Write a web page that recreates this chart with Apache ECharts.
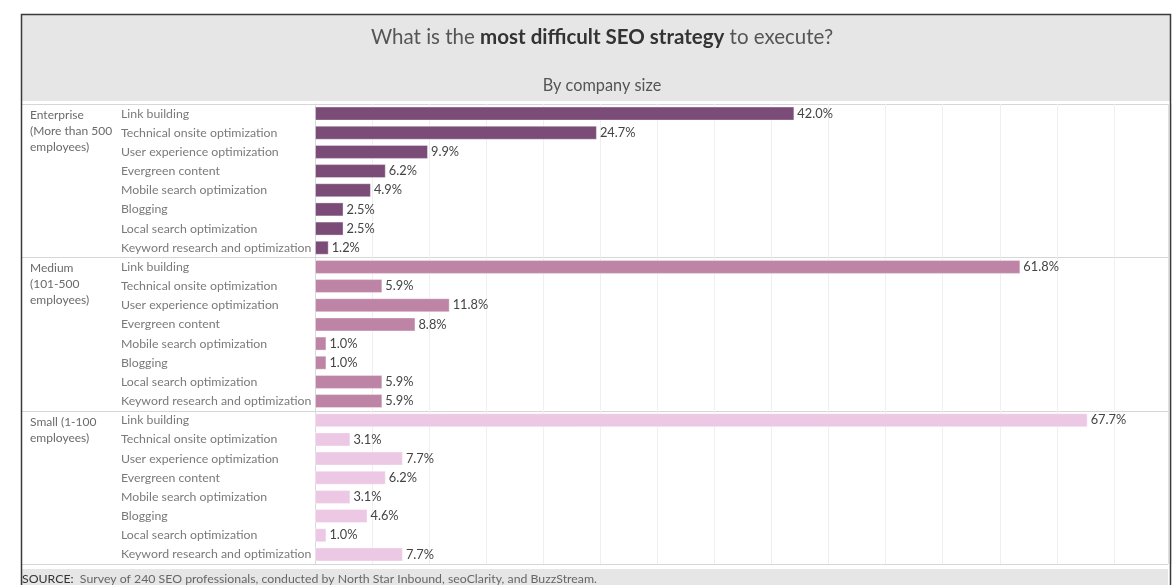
<!DOCTYPE html>
<html>
<head>
<meta charset="utf-8">
<title>Most difficult SEO strategy by company size</title>
<script src="https://cdn.jsdelivr.net/npm/echarts@6/dist/echarts.min.js"></script>
<style>
  html, body { margin: 0; padding: 0; background: #ffffff; }
  #chart { width: 1173px; height: 585px; }
</style>
</head>
<body>
<div id="chart"></div>
<script>
// Strategies, listed top to bottom within each company-size group
const strategies = [
  'Link building',
  'Technical onsite optimization',
  'User experience optimization',
  'Evergreen content',
  'Mobile search optimization',
  'Blogging',
  'Local search optimization',
  'Keyword research and optimization'
];

const groupLabels = [
  'Enterprise\n(More than 500\nemployees)',
  'Medium\n(101-500\nemployees)',
  'Small (1-100\nemployees)'
];

// Share of respondents (%) per group
const enterpriseValues = [42.0, 24.7, 9.9, 6.2, 4.9, 2.5, 2.5, 1.2];
const mediumValues     = [61.8, 5.9, 11.8, 8.8, 1.0, 1.0, 5.9, 5.9];
const smallValues      = [67.7, 3.1, 7.7, 6.2, 3.1, 4.6, 1.0, 7.7];

const groupColors = ['#7b4c78', '#bd84a6', '#edc8e4'];

const FONT = 'Lato, "Open Sans", sans-serif';
const groupValues = [enterpriseValues, mediumValues, smallValues];

const plotTop = 104;
const bandH = 153.33;
const plotLeft = 315;
const plotRight = 1171;   // where 75% falls
const panelRight = 1168;  // inner edge of the panel

const grids = [], xAxes = [], yAxes = [], series = [], graphics = [];

// frame, heading band and footer band
graphics.push({
  type: 'rect', silent: true, z: -10,
  shape: { x: 22, y: 15, width: 1148, height: 86 },
  style: { fill: '#e6e6e6' }
});
graphics.push({
  type: 'rect', silent: true, z: -10,
  shape: { x: 22, y: 569, width: 1146, height: 30 },
  style: { fill: '#e6e6e6' }
});
graphics.push({
  type: 'rect', silent: true, z: 50,
  shape: { x: 21.5, y: 14.5, width: 1149, height: 600 },
  style: { fill: 'none', stroke: '#3a3a3a', lineWidth: 1.5 }
});
graphics.push({
  type: 'text', z: 20, left: 22, top: 573,
  style: {
    text: '{b|SOURCE:}  Survey of 240 SEO professionals, conducted by North Star Inbound, seoClarity, and BuzzStream.',
    font: '12.3px ' + FONT, fill: '#666',
    rich: { b: { font: '12.3px ' + FONT, fill: '#333' } }
  }
});

groupValues.forEach((vals, i) => {
  const top = plotTop + i * bandH;
  grids.push({ left: plotLeft, right: 1173 - plotRight, top: top, height: bandH, containLabel: false });
  xAxes.push({
    type: 'value', gridIndex: i, min: 0, max: 75, interval: 5,
    axisLabel: { show: false }, axisLine: { show: false }, axisTick: { show: false },
    splitLine: { show: true, lineStyle: { color: '#efefef', width: 1 } }
  });
  yAxes.push({
    type: 'category', gridIndex: i, inverse: true, data: strategies,
    axisLine: { show: true, lineStyle: { color: '#d9d9d9' } },
    axisTick: { show: false },
    axisLabel: {
      align: 'left', margin: plotLeft - 121,
      color: '#7a7a7a', fontSize: 12.3, fontFamily: FONT
    }
  });
  series.push({
    type: 'bar', xAxisIndex: i, yAxisIndex: i, data: vals,
    barWidth: 14,
    itemStyle: { color: groupColors[i], borderColor: 'rgba(255,255,255,0.35)', borderWidth: 1 },
    label: {
      show: true, position: 'right', distance: 3,
      formatter: p => p.value.toFixed(1) + '%',
      color: '#444', fontSize: 12.8, fontFamily: FONT
    },
    emphasis: { disabled: true },
    animation: false
  });
  // group label in the left column
  graphics.push({
    type: 'text', left: 30, top: top + 3,
    style: { text: groupLabels[i], font: '12px ' + FONT, fill: '#6a6a6a', lineHeight: 16 }
  });
  // separator line above each group
  graphics.push({
    type: 'line', silent: true,
    shape: { x1: 22, y1: Math.round(top) + 0.5, x2: panelRight, y2: Math.round(top) + 0.5 },
    style: { stroke: '#d6d6d6', lineWidth: 1 }
  });
});
// bottom separator and right edge of the panel
graphics.push({
  type: 'line', silent: true,
  shape: { x1: 22, y1: Math.round(plotTop + 3 * bandH) + 0.5, x2: panelRight, y2: Math.round(plotTop + 3 * bandH) + 0.5 },
  style: { stroke: '#d6d6d6', lineWidth: 1 }
});
graphics.push({
  type: 'line', silent: true,
  shape: { x1: panelRight + 0.5, y1: plotTop, x2: panelRight + 0.5, y2: plotTop + 3 * bandH },
  style: { stroke: '#e0e0e0', lineWidth: 1 }
});

const chart = echarts.init(document.getElementById('chart'), null, { renderer: 'canvas' });
chart.setOption({
  backgroundColor: '#ffffff',
  animation: false,
  title: [
    {
      text: 'What is the {b|most difficult SEO strategy} to execute?',
      left: 597, top: 22, textAlign: 'center',
      textStyle: {
        fontFamily: FONT, fontSize: 20.5, fontWeight: 'normal', color: '#555',
        rich: { b: { fontFamily: FONT, fontSize: 20.5, fontWeight: 'bold', color: '#333' } }
      }
    },
    {
      text: 'By company size',
      left: 597, top: 73, textAlign: 'center',
      textStyle: { fontFamily: FONT, fontSize: 16.3, fontWeight: 'normal', color: '#555' }
    }
  ],
  grid: grids,
  xAxis: xAxes,
  yAxis: yAxes,
  series: series,
  graphic: graphics
});
</script>
</body>
</html>
